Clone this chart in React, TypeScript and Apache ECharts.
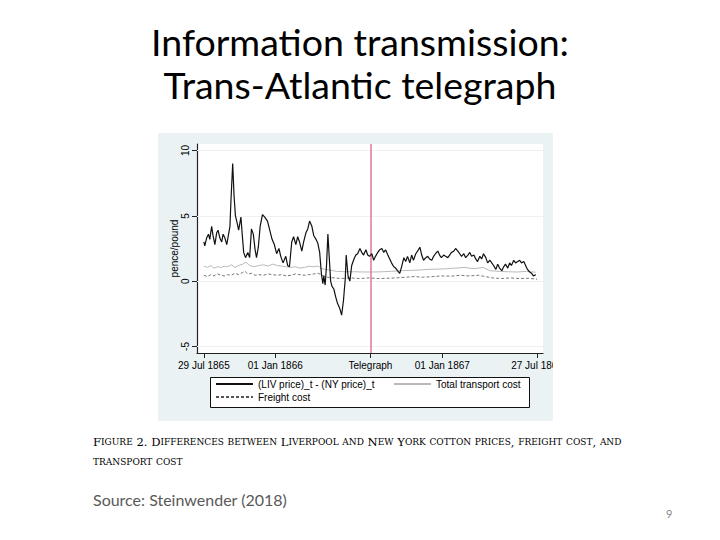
import React, { useEffect, useRef } from 'react';
import * as echarts from 'echarts';

// days since 29 Jul 1865
const xTickDays = [0, 156, 364, 521, 728];
const xTickLabels = ['29 Jul 1865', '01 Jan 1866', 'Telegraph', '01 Jan 1867', '27 Jul 1867'];
const yTicks = [-5, 0, 5, 10];
const telegraphDay = 364;

// (LIV price)_t - (NY price)_t
const diffDays = [
  0, 2, 6, 10, 13, 17, 20, 24, 28, 31, 35, 39, 42, 46, 50, 53, 57, 59, 63, 66, 69, 73, 76, 81, 84, 87,
  91, 96, 100, 104, 108, 112, 115, 119, 123, 128, 133, 139, 144, 149, 154, 159, 164, 168, 173, 179,
  183, 187, 192, 196, 201, 205, 209, 214, 218, 223, 227, 231, 236, 240, 245, 249, 253, 257, 260, 262,
  265, 268, 271, 274, 277, 280, 284, 288, 292, 297, 301, 305, 309, 311, 315, 319, 323, 328, 332, 336,
  341, 345, 349, 354, 358, 362, 367, 371, 375, 380, 384, 389, 393, 397, 402, 406, 410, 415, 419, 423,
  428, 432, 437, 441, 445, 450, 454, 458, 463, 467, 472, 476, 480, 485, 489, 493, 498, 502, 506, 511,
  515, 519, 524, 528, 533, 537, 541, 546, 550, 555, 559, 563, 568, 572, 577, 581, 585, 590, 594, 598,
  603, 607, 611, 616, 620, 625, 629, 633, 638, 642, 646, 651, 655, 659, 664, 668, 672, 677, 681, 686,
  690, 694, 699, 703, 707, 712, 716, 720, 725,
];
const diffValues = [
  3.0, 2.7, 3.3, 3.6, 3.2, 4.2, 3.5, 2.8, 3.7, 3.9, 3.3, 3.0, 3.6, 3.3, 2.8, 3.4, 4.2, 6.0, 9.0, 6.5,
  5.0, 4.4, 3.9, 4.9, 3.5, 2.2, 1.8, 2.2, 1.8, 4.0, 3.6, 2.4, 1.8, 2.6, 4.2, 5.1, 4.9, 4.6, 3.9, 3.2,
  2.8, 2.1, 2.5, 1.9, 1.4, 1.9, 1.2, 1.1, 3.0, 3.4, 2.8, 3.4, 3.0, 2.3, 3.0, 3.7, 4.0, 4.6, 4.2, 3.5,
  3.2, 2.9, 2.2, 0.5, -0.2, 0.4, -0.3, 1.2, 3.6, 1.8, 0.0, -0.4, -0.6, -1.2, -1.7, -2.1, -2.6, -1.5,
  0.2, 2.0, 0.4, 0.0, 1.2, 1.7, 2.0, 2.1, 2.5, 2.2, 2.0, 2.4, 2.0, 1.9, 2.1, 1.6, 1.9, 2.2, 2.4, 2.5,
  2.2, 2.4, 2.0, 1.7, 1.4, 1.1, 1.0, 0.8, 0.6, 1.1, 1.8, 1.5, 1.9, 1.4, 2.0, 1.6, 2.1, 2.3, 2.6, 2.0,
  1.6, 1.8, 1.9, 1.7, 1.6, 1.9, 2.1, 2.3, 2.0, 1.8, 2.0, 1.9, 1.8, 2.0, 2.2, 2.3, 2.5, 2.3, 2.1, 1.9,
  2.1, 1.8, 2.0, 2.2, 1.9, 2.0, 1.7, 1.5, 1.9, 1.7, 2.1, 1.8, 1.4, 1.6, 1.4, 1.2, 0.9, 1.3, 1.0, 0.8,
  1.1, 1.3, 1.0, 1.4, 1.2, 1.6, 1.4, 1.5, 1.6, 1.4, 1.5, 1.2, 0.9, 0.7, 0.6, 0.4, 0.5,
];

// Total transport cost
const transportDays = [
  0, 8, 15, 22, 30, 38, 45, 52, 60, 68, 76, 85, 92, 100, 110, 120, 130, 140, 150, 160, 170, 180, 190,
  200, 210, 220, 230, 240, 250, 258, 265, 275, 290, 310, 330, 350, 370, 390, 410, 430, 450, 470, 490,
  510, 530, 550, 570, 590, 610, 625, 645, 665, 685, 705, 725,
];
const transportValues = [
  1.15, 1.05, 1.2, 1.0, 1.1, 1.05, 1.15, 1.1, 1.25, 1.05, 1.2, 1.3, 1.45, 1.2, 1.1, 1.2, 1.25, 1.15,
  1.3, 1.2, 1.15, 1.1, 1.05, 1.1, 1.0, 1.05, 1.15, 1.1, 1.15, 0.95, 0.9, 0.85, 0.75, 0.72, 0.72, 0.7,
  0.7, 0.72, 0.75, 0.8, 0.82, 0.85, 0.9, 0.92, 0.95, 1.0, 1.05, 0.95, 1.05, 0.8, 0.75, 0.72, 0.7,
  0.75, 0.68,
];

// Freight cost
const freightDays = [
  0, 8, 15, 22, 30, 38, 45, 52, 60, 68, 76, 84, 90, 96, 104, 112, 120, 130, 140, 150, 160, 170, 180,
  190, 200, 210, 220, 230, 240, 250, 258, 270, 285, 300, 320, 340, 360, 380, 400, 420, 440, 460, 480,
  500, 520, 540, 560, 580, 600, 615, 630, 650, 670, 690, 710, 728,
];
const freightValues = [
  0.45, 0.35, 0.5, 0.4, 0.55, 0.45, 0.4, 0.5, 0.45, 0.6, 0.5, 0.65, 0.75, 0.55, 0.6, 0.45, 0.5, 0.45,
  0.55, 0.5, 0.45, 0.5, 0.4, 0.45, 0.55, 0.5, 0.45, 0.5, 0.55, 0.6, 0.45, 0.3, 0.25, 0.2, 0.25, 0.2,
  0.25, 0.2, 0.22, 0.25, 0.3, 0.35, 0.3, 0.35, 0.4, 0.38, 0.45, 0.4, 0.45, 0.35, 0.25, 0.2, 0.25, 0.2,
  0.22, 0.15,
];

const zip = (xs: number[], ys: number[]) => xs.map((x, i) => [x, ys[i]]);

// small caps as rich text: capitals big, lowercase as small capitals
const smallCaps = (s: string) => {
  let out = '';
  let cur = '';
  let kind = '';
  for (const ch of s) {
    const k = ch >= 'a' && ch <= 'z' ? 's' : 'b';
    if (k !== kind && cur) {
      out += `{${kind}|${cur}}`;
      cur = '';
    }
    kind = k;
    cur += k === 's' ? ch.toUpperCase() : ch;
  }
  if (cur) out += `{${kind}|${cur}}`;
  return out;
};

const App = function () {
  const cDom = useRef<HTMLDivElement>(null);

  useEffect(() => {
    const chart = echarts.init(cDom.current!, null, { renderer: 'svg' });
    const axisFont = { fontFamily: 'Liberation Sans', fontSize: 10, color: '#000' };
    const capStyle = {
      b: { fontFamily: 'DejaVu Serif', fontSize: 11.6, color: '#000' },
      s: { fontFamily: 'DejaVu Serif', fontSize: 9, color: '#000' },
    };
    const legendBase = {
      itemWidth: 37,
      itemHeight: 10,
      itemGap: 0,
      padding: 0,
      itemStyle: { opacity: 0 },
      textStyle: axisFont,
    };

    const option: any = {
      animation: false,
      grid: {
        left: 197,
        right: 177,
        top: 144,
        bottom: 187,
        show: true,
        backgroundColor: '#fff',
        borderWidth: 0,
      },
      xAxis: {
        type: 'value',
        min: -15,
        max: 741,
        splitLine: { show: false },
        axisLine: { onZero: false, lineStyle: { color: '#222', width: 1.2 } },
        axisTick: { customValues: xTickDays, length: 5, lineStyle: { color: '#222' } },
        axisLabel: {
          ...axisFont,
          customValues: xTickDays,
          margin: 7,
          formatter: (v: number) => xTickLabels[xTickDays.indexOf(v)] ?? '',
        },
      },
      yAxis: {
        type: 'value',
        min: -5.5,
        max: 10.5,
        name: 'pence/pound',
        nameLocation: 'middle',
        nameRotate: 90,
        nameGap: 4,
        nameTextStyle: axisFont,
        splitLine: { show: false },
        axisLine: { show: true, onZero: false, lineStyle: { color: '#222', width: 1.2 } },
        axisTick: { show: true, customValues: yTicks, length: 5, lineStyle: { color: '#222' } },
        axisLabel: { ...axisFont, customValues: yTicks, rotate: 90, margin: 7 },
      },
      legend: [
        { ...legendBase, left: 215, top: 379, data: ['(LIV price)_t - (NY price)_t'] },
        { ...legendBase, left: 393, top: 379, data: ['Total transport cost'] },
        { ...legendBase, left: 215, top: 392, data: ['Freight cost'] },
      ],
      graphic: [
        {
          type: 'rect',
          z: -10,
          shape: { x: 158, y: 133, width: 395, height: 288 },
          style: { fill: '#eaf2f3' },
        },
        {
          type: 'rect',
          z: 1,
          shape: { x: 210.5, y: 377.5, width: 319, height: 30 },
          style: { fill: '#fff', stroke: '#111', lineWidth: 1 },
        },
        {
          // the panel cuts the last date label
          type: 'rect',
          z: 100,
          shape: { x: 553, y: 356, width: 60, height: 20 },
          style: { fill: '#fff' },
        },
        {
          type: 'text',
          x: 360,
          y: 63,
          style: {
            text: 'Information transmission:\nTrans-Atlantic telegraph',
            fontFamily: 'Lato',
            fontSize: 37.5,
            lineHeight: 43,
            textAlign: 'center',
            textVerticalAlign: 'middle',
            fill: '#000',
          },
        },
        {
          type: 'text',
          x: 93,
          y: 442,
          style: {
            text: smallCaps(
              'Figure 2. Differences between Liverpool and New York cotton prices, freight cost, and'
            ),
            rich: capStyle,
            textVerticalAlign: 'middle',
          },
        },
        {
          type: 'text',
          x: 93,
          y: 462,
          style: { text: smallCaps('transport cost'), rich: capStyle, textVerticalAlign: 'middle' },
        },
        {
          type: 'text',
          x: 93,
          y: 499,
          style: {
            text: 'Source: Steinwender (2018)',
            fontFamily: 'Lato',
            fontSize: 16,
            fill: '#595959',
            textVerticalAlign: 'middle',
          },
        },
        {
          type: 'text',
          x: 666,
          y: 513,
          style: {
            text: '9',
            fontFamily: 'Lato',
            fontSize: 11,
            fill: '#888',
            textVerticalAlign: 'middle',
          },
        },
      ],
      series: [
        {
          name: 'ref',
          type: 'line',
          data: [],
          z: 1,
          silent: true,
          markLine: {
            silent: true,
            symbol: 'none',
            label: { show: false },
            lineStyle: { color: '#eef1f1', width: 1, type: 'solid' },
            data: yTicks.map((v) => ({ yAxis: v })),
          },
        },
        {
          name: 'Total transport cost',
          type: 'line',
          z: 2,
          symbol: 'none',
          data: zip(transportDays, transportValues),
          lineStyle: { color: '#b9b9b9', width: 1 },
          itemStyle: { color: '#b9b9b9' },
        },
        {
          name: 'Freight cost',
          type: 'line',
          z: 3,
          symbol: 'none',
          data: zip(freightDays, freightValues),
          lineStyle: { color: '#555', width: 0.8, type: [3, 2] },
          itemStyle: { color: '#555' },
        },
        {
          name: 'telegraph',
          type: 'line',
          data: [],
          z: 4,
          silent: true,
          markLine: {
            silent: true,
            symbol: 'none',
            label: { show: false },
            lineStyle: { color: '#e07fa5', width: 1.6, type: 'solid' },
            data: [{ xAxis: telegraphDay }],
          },
        },
        {
          name: '(LIV price)_t - (NY price)_t',
          type: 'line',
          z: 5,
          symbol: 'none',
          data: zip(diffDays, diffValues),
          lineStyle: { color: '#111', width: 1.2 },
          itemStyle: { color: '#111' },
        },
      ],
    };

    chart.setOption(option);
    return () => {
      chart.dispose();
    };
  }, []);

  return (
    <div
      ref={cDom}
      style={{ position: 'absolute', left: 0, top: 0, width: 720, height: 540, background: '#fff' }}
    />
  );
};

export default App;
